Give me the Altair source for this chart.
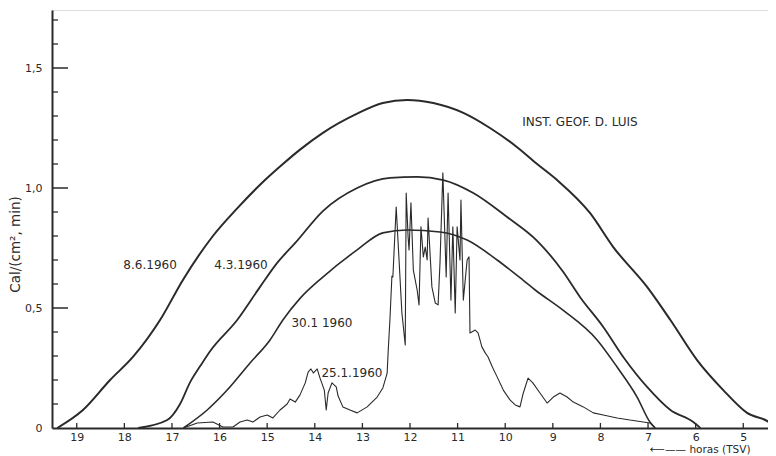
import altair as alt
import pandas as pd

# ---- data (hours TSV, cal/(cm2 min)) ----
h_0806 = [19.41, 18.87, 18.30, 17.82, 17.25, 16.77, 16.14, 15.63, 15.09, 14.67, 14.31, 13.83,
          13.11, 12.57, 12.06, 11.51, 10.88, 10.32, 9.75, 9.33, 8.91, 8.22, 7.73, 7.02, 6.53,
          5.97, 5.42, 4.92, 4.44, 4.33]
v_0806 = [0.0, 0.075, 0.200, 0.296, 0.450, 0.617, 0.800, 0.915, 1.025, 1.100, 1.160, 1.230,
          1.310, 1.354, 1.367, 1.354, 1.313, 1.250, 1.170, 1.100, 1.033, 0.896, 0.754, 0.588, 0.450,
          0.283, 0.158, 0.063, 0.021, 0.0]

h_0403 = [17.71, 17.10, 16.83, 16.62, 16.40, 16.20, 15.63, 15.15, 14.79, 14.41, 13.83, 13.11, 12.42,
          11.85, 11.30, 10.67, 9.96, 9.33, 8.78, 8.43, 7.94, 7.52, 7.02, 6.53, 6.05, 5.90]
v_0403 = [0.0, 0.033, 0.100, 0.190, 0.260, 0.320, 0.450, 0.588, 0.688, 0.771, 0.904, 1.000, 1.042,
          1.046, 1.033, 0.979, 0.879, 0.780, 0.650, 0.546, 0.421, 0.296, 0.171, 0.075, 0.025, 0.0]

h_3001 = [16.76, 16.26, 15.84, 15.36, 14.94, 14.67, 14.31, 13.83, 13.11, 12.57, 12.06, 11.37,
          10.80, 10.17, 9.62, 9.37, 8.78, 8.07, 7.65, 7.23, 6.96, 6.85]
v_3001 = [0.0, 0.075, 0.158, 0.271, 0.367, 0.450, 0.540, 0.629, 0.742, 0.813, 0.825, 0.817,
          0.783, 0.700, 0.615, 0.575, 0.490, 0.367, 0.254, 0.129, 0.025, 0.0]

h_2501 = [16.76, 16.47, 16.14, 15.93, 15.72, 15.57, 15.42, 15.30, 15.15, 15.00, 14.88, 14.73,
          14.58, 14.52, 14.41, 14.31, 14.20, 14.14, 14.08, 14.03, 13.95, 13.89, 13.80, 13.76,
          13.72, 13.64, 13.55, 13.51, 13.41, 13.26, 13.11, 12.90, 12.69, 12.57, 12.48, 12.46,
          12.42, 12.38, 12.36, 12.29, 12.23, 12.17, 12.10, 12.08, 12.04, 12.02, 11.98, 11.93,
          11.85, 11.81, 11.77, 11.72, 11.68, 11.64, 11.62, 11.54, 11.47, 11.41, 11.37, 11.31,
          11.24, 11.20, 11.14, 11.10, 11.05, 11.01, 10.95, 10.93, 10.88, 10.80, 10.76, 10.74,
          10.63, 10.57, 10.49, 10.42, 10.36, 10.27, 10.17, 10.04, 9.90, 9.79, 9.69, 9.62, 9.52,
          9.42, 9.27, 9.12, 8.99, 8.85, 8.70, 8.57, 8.36, 8.15, 7.94, 7.65, 7.38, 7.10, 6.96, 6.85]
v_2501 = [0.0, 0.021, 0.025, 0.004, 0.004, 0.025, 0.033, 0.025, 0.046, 0.054, 0.042, 0.075,
          0.100, 0.121, 0.108, 0.138, 0.188, 0.233, 0.246, 0.229, 0.246, 0.208, 0.158, 0.075,
          0.146, 0.188, 0.171, 0.133, 0.088, 0.075, 0.063, 0.088, 0.129, 0.167, 0.229, 0.313,
          0.458, 0.633, 0.629, 0.921, 0.700, 0.479, 0.346, 0.979, 0.796, 0.742, 0.938, 0.658,
          0.575, 0.513, 0.838, 0.713, 0.754, 0.700, 0.875, 0.588, 0.521, 0.513, 0.688, 1.063,
          0.629, 0.979, 0.533, 0.838, 0.479, 0.838, 0.700, 0.950, 0.533, 0.700, 0.713, 0.396,
          0.408, 0.396, 0.338, 0.313, 0.296, 0.254, 0.213, 0.158, 0.117, 0.096, 0.088, 0.146, 0.208,
          0.188, 0.146, 0.104, 0.129, 0.146, 0.129, 0.108, 0.088, 0.063, 0.054, 0.042, 0.033, 0.025,
          0.021, 0.0]

series_names = ["8.6.1960", "4.3.1960", "30.1.1960", "25.1.1960"]

label_texts = ["8.6.1960", "4.3.1960", "30.1 1960", "25.1.1960", "INST. GEOF. D. LUIS"]
label_hours = [17.46, 15.55, 13.85, 13.22, 8.43]
label_vals = [0.679, 0.679, 0.4375, 0.229, 1.275]

x_tick_hours = list(range(5, 20))
y_major = [0.5, 1.0, 1.5]
y_minor = [0.1, 0.2, 0.3, 0.4, 0.6, 0.7, 0.8, 0.9, 1.1, 1.2, 1.3, 1.4, 1.6, 1.7]

# ---- tables ----
def table(names, hs_list, vs_list):
    rows = []
    for name, hs, vs in zip(names, hs_list, vs_list):
        for i, (h, v) in enumerate(zip(hs, vs)):
            rows.append({"serie": name, "hora": h, "valor": v, "orden": i})
    return pd.DataFrame(rows)

df_smooth = table(series_names[:3], [h_0806, h_0403, h_3001], [v_0806, v_0403, v_3001])
df_noisy = table(series_names[3:], [h_2501], [v_2501])
lab = pd.DataFrame({"txt": label_texts, "hora": label_hours, "valor": label_vals})
xt = pd.DataFrame({"hora": x_tick_hours})
ymaj = pd.DataFrame({"valor": y_major})
ymin = pd.DataFrame({"valor": y_minor})

INK = "#2a2a2a"
FONT = "DejaVu Sans"
W, H = 716, 418
xscale = alt.Scale(domain=[4.48, 19.52], reverse=True, nice=False, zero=False)
yscale = alt.Scale(domain=[0, H / 240], nice=False, zero=False)

xaxis = alt.Axis(values=x_tick_hours, format="d", ticks=False, grid=False, domainColor=INK,
                 domainWidth=2, labelColor=INK, labelFontSize=11, labelPadding=3,
                 labelFont=FONT, title="⟵—— horas (TSV)", titleFont=FONT,
                 titleFontSize=10.5, titleFontWeight="normal", titleColor=INK, titleX=698,
                 titleY=21, titleAlign="right", titleBaseline="middle", titleAnchor="end")
yaxis = alt.Axis(values=[0, 0.5, 1.0, 1.5], ticks=False, grid=False, domainColor=INK, domainWidth=2,
                 labelExpr="datum.value == 0 ? '0' : replace(format(datum.value, '.1f'), '.', ',')",
                 labelColor=INK, labelFontSize=11, labelPadding=10, labelFont=FONT,
                 title="Cal/(cm², min)", titleFont=FONT, titleFontSize=13.5,
                 titleFontWeight="normal", titleColor=INK, titleX=-37, titleY=234,
                 titleAngle=-90, titleAlign="center", titleBaseline="middle")

smooth = alt.Chart(df_smooth).mark_line(color=INK, clip=True, interpolate="monotone").encode(
    x=alt.X("hora:Q", scale=xscale, axis=xaxis),
    y=alt.Y("valor:Q", scale=yscale, axis=yaxis),
    detail="serie:N",
    order="orden:Q",
    strokeWidth=alt.StrokeWidth("serie:N", scale=alt.Scale(domain=series_names[:3], range=[2.0, 1.6, 1.5]),
                                legend=None),
)
noisy = alt.Chart(df_noisy).mark_line(color=INK, clip=True, strokeWidth=1.1, strokeJoin="round").encode(
    x=alt.X("hora:Q", scale=xscale),
    y=alt.Y("valor:Q", scale=yscale),
    order="orden:Q",
)

texts = alt.Chart(lab).mark_text(font=FONT, fontSize=12, color=INK, baseline="middle").encode(
    x=alt.X("hora:Q", scale=xscale), y=alt.Y("valor:Q", scale=yscale), text="txt:N")

xticks = alt.Chart(xt).mark_rule(color=INK, strokeWidth=1.3).encode(
    x=alt.X("hora:Q", scale=xscale), y=alt.value(H), y2=alt.value(H - 5))
ymajor = alt.Chart(ymaj).mark_rule(color=INK, strokeWidth=1.5).encode(
    y=alt.Y("valor:Q", scale=yscale), x=alt.value(0), x2=alt.value(16))
yminor = alt.Chart(ymin).mark_rule(color=INK, strokeWidth=1.3).encode(
    y=alt.Y("valor:Q", scale=yscale), x=alt.value(0), x2=alt.value(6))

chart = alt.layer(smooth, noisy, texts, xticks, ymajor, yminor).properties(
    width=W, height=H,
    autosize=alt.AutoSizeParams(type="none"),
    padding={"left": 44, "top": 2, "right": 0, "bottom": 28},
).configure_view(stroke=None).configure(background="white")

chart.save("out.html", embed_options={"renderer": "svg", "actions": False})
